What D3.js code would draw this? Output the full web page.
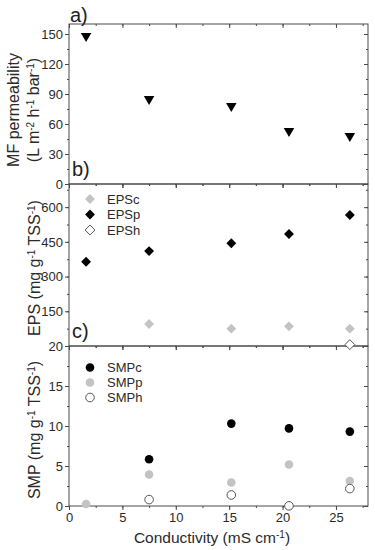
<!DOCTYPE html>
<html>
<head>
<meta charset="utf-8">
<script src="https://cdn.jsdelivr.net/npm/d3@7"></script>
<style>
  body { margin: 0; background: #fff; }
  svg { font-family: "Liberation Sans", Arial, sans-serif; }
</style>
</head>
<body>
<div id="chart"></div>
<script>
// conductivity (mS cm-1)
const conductivity = [1.6, 7.5, 15.2, 20.6, 26.3];

// panel a
const mfPermeability = [148, 85, 78, 53, 48];

// panel b
const epsC = [null, 95, 75, 85, 75];
const epsP = [364, 410, 444, 484, 566];
const epsH = [null, null, null, null, 6];

// panel c
const smpC = [null, 5.85, 10.3, 9.7, 9.3];
const smpP = [0.25, 3.93, 2.93, 5.19, 3.13];
const smpH = [null, 0.8, 1.38, 0.02, 2.18];

const xTicks = [0, 5, 10, 15, 20, 25];
const aTicks = [0, 30, 60, 90, 120, 150];
const bTicks = [150, 300, 450, 600];
const cTicks = [0, 5, 10, 15, 20];

const width = 375, height = 550;
const left = 69, right = 368;
const axisColor = '#4a4a4a';
const textColor = '#2a2a2a';
const gray = '#c3c3c3';

const svg = d3.select('#chart').append('svg')
  .attr('width', width)
  .attr('height', height);

const x = d3.scaleLinear().domain([0, 28]).range([left, right]);

const panels = [
  { key: 'a', top: 24, bottom: 184, domain: [0, 160], ticks: aTicks, minor: 15 },
  { key: 'b', top: 184, bottom: 346, domain: [0, 700], ticks: bTicks, minor: 75 },
  { key: 'c', top: 346, bottom: 506, domain: [0, 20], ticks: cTicks, minor: 2.5 }
];

panels.forEach(p => {
  p.y = d3.scaleLinear().domain(p.domain).range([p.bottom, p.top]);
  const minorVals = d3.range(p.domain[0], p.domain[1] + 1e-9, p.minor);
  const xMinor = d3.range(0, 28, 2.5);

  // left axis, ticks outward
  svg.append('g')
    .attr('transform', `translate(${left},0)`)
    .call(d3.axisLeft(p.y).tickValues(minorVals).tickSize(2).tickFormat(''))
    .call(g => g.select('.domain').remove());
  svg.append('g')
    .attr('transform', `translate(${left},0)`)
    .call(d3.axisLeft(p.y).tickValues(p.ticks).tickSize(4).tickPadding(2))
    .call(g => g.select('.domain').remove())
    .call(g => g.selectAll('text').attr('fill', textColor).style('font-size', '13px'));

  // right axis, ticks inward
  svg.append('g')
    .attr('transform', `translate(${right},0)`)
    .call(d3.axisLeft(p.y).tickValues(minorVals).tickSize(2).tickFormat(''))
    .call(g => g.select('.domain').remove());
  svg.append('g')
    .attr('transform', `translate(${right},0)`)
    .call(d3.axisLeft(p.y).tickValues(p.ticks).tickSize(4).tickFormat(''))
    .call(g => g.select('.domain').remove());

  // top ticks inward
  svg.append('g')
    .attr('transform', `translate(0,${p.top})`)
    .call(d3.axisTop(x).tickValues(xMinor).tickSize(-2).tickFormat(''))
    .call(g => g.select('.domain').remove());
  svg.append('g')
    .attr('transform', `translate(0,${p.top})`)
    .call(d3.axisTop(x).tickValues(xTicks).tickSize(-4).tickFormat(''))
    .call(g => g.select('.domain').remove());

  // bottom ticks outward
  svg.append('g')
    .attr('transform', `translate(0,${p.bottom})`)
    .call(d3.axisBottom(x).tickValues(xTicks).tickSize(4).tickPadding(3)
      .tickFormat(p.key === 'c' ? d3.format('d') : ''))
    .call(g => g.select('.domain').remove())
    .call(g => g.selectAll('text').attr('fill', textColor).style('font-size', '13px'));
  svg.append('g')
    .attr('transform', `translate(0,${p.bottom})`)
    .call(d3.axisBottom(x).tickValues(xMinor).tickSize(2).tickFormat(''))
    .call(g => g.select('.domain').remove());

  svg.append('rect')
    .attr('x', left).attr('y', p.top)
    .attr('width', right - left).attr('height', p.bottom - p.top)
    .attr('fill', 'none')
    .attr('stroke', axisColor)
    .attr('stroke-width', 1);
});

svg.selectAll('.tick line').attr('stroke', axisColor);

const [pa, pb, pc] = panels;

const pts = vals => conductivity.map((c, i) => ({ c, v: vals[i] })).filter(d => d.v != null);

// panel a: down triangles
const tri = d3.symbol().type(d3.symbolTriangle).size(48);
svg.append('g').selectAll('path')
  .data(pts(mfPermeability))
  .join('path')
  .attr('d', tri)
  .attr('transform', d => `translate(${x(d.c)},${pa.y(d.v)}) rotate(180)`)
  .attr('fill', '#000');

// panel b: diamonds
const diamond = d3.symbol().type(d3.symbolDiamond2).size(62);
const drawDiamonds = (vals, fill, stroke) => {
  svg.append('g').selectAll('path')
    .data(pts(vals))
    .join('path')
    .attr('d', diamond)
    .attr('transform', d => `translate(${x(d.c)},${pb.y(d.v)})`)
    .attr('fill', fill)
    .attr('stroke', stroke)
    .attr('stroke-width', 1);
};
drawDiamonds(epsC, gray, 'none');
drawDiamonds(epsP, '#000', 'none');
drawDiamonds(epsH, '#fff', '#555');

// panel c: circles
const drawCircles = (vals, fill, stroke) => {
  svg.append('g').selectAll('circle')
    .data(pts(vals))
    .join('circle')
    .attr('cx', d => x(d.c))
    .attr('cy', d => pc.y(d.v))
    .attr('r', 4.3)
    .attr('fill', fill)
    .attr('stroke', stroke)
    .attr('stroke-width', 1);
};
drawCircles(smpC, '#000', 'none');
drawCircles(smpP, gray, 'none');
drawCircles(smpH, '#fff', '#555');

// legends
const legB = [
  { name: 'EPSc', fill: gray, stroke: 'none' },
  { name: 'EPSp', fill: '#000', stroke: 'none' },
  { name: 'EPSh', fill: '#fff', stroke: '#555' }
];
const lb = svg.append('g').selectAll('g')
  .data(legB).join('g')
  .attr('transform', (d, i) => `translate(90,${199 + i * 15.5})`);
lb.append('path').attr('d', diamond)
  .attr('fill', d => d.fill).attr('stroke', d => d.stroke);
lb.append('text').attr('x', 17).attr('y', 4.5)
  .attr('fill', textColor).style('font-size', '13px').text(d => d.name);

const legC = [
  { name: 'SMPc', fill: '#000', stroke: 'none' },
  { name: 'SMPp', fill: gray, stroke: 'none' },
  { name: 'SMPh', fill: '#fff', stroke: '#555' }
];
const lc = svg.append('g').selectAll('g')
  .data(legC).join('g')
  .attr('transform', (d, i) => `translate(90,${367.5 + i * 15})`);
lc.append('circle').attr('r', 4.3)
  .attr('fill', d => d.fill).attr('stroke', d => d.stroke);
lc.append('text').attr('x', 17).attr('y', 4.5)
  .attr('fill', textColor).style('font-size', '13px').text(d => d.name);

// panel letters
const letters = [
  { t: 'a)', x: 70, y: 22 },
  { t: 'b)', x: 72, y: 176 },
  { t: 'c)', x: 72, y: 338 }
];
svg.append('g').selectAll('text')
  .data(letters).join('text')
  .attr('x', d => d.x).attr('y', d => d.y)
  .attr('fill', '#222').style('font-size', '20px')
  .text(d => d.t);

// axis titles
const yTitle = (cx, cy, parts) => {
  const t = svg.append('text')
    .attr('transform', `translate(${cx},${cy}) rotate(-90)`)
    .attr('text-anchor', 'middle')
    .attr('fill', textColor)
    .style('font-size', '16px');
  parts.forEach(([s, sup]) => {
    t.append('tspan')
      .attr('baseline-shift', sup ? 'super' : null)
      .style('font-size', sup ? '10px' : null)
      .text(s);
  });
};
yTitle(19, 110, [['MF permeability']]);
yTitle(39, 110, [['(L m'], ['-2', true], [' h'], ['-1', true], [' bar'], ['-1', true], [')']]);
yTitle(40, 268, [['EPS (mg g'], ['-1', true], [' TSS'], ['-1', true], [')']]);
yTitle(40, 430, [['SMP (mg g'], ['-1', true], [' TSS'], ['-1', true], [')']]);

const xt = svg.append('text')
  .attr('x', 212).attr('y', 543)
  .attr('text-anchor', 'middle')
  .attr('fill', textColor)
  .style('font-size', '15.5px');
xt.append('tspan').text('Conductivity (mS cm');
xt.append('tspan').attr('baseline-shift', 'super').style('font-size', '10px').text('-1');
xt.append('tspan').text(')');
</script>
</body>
</html>
